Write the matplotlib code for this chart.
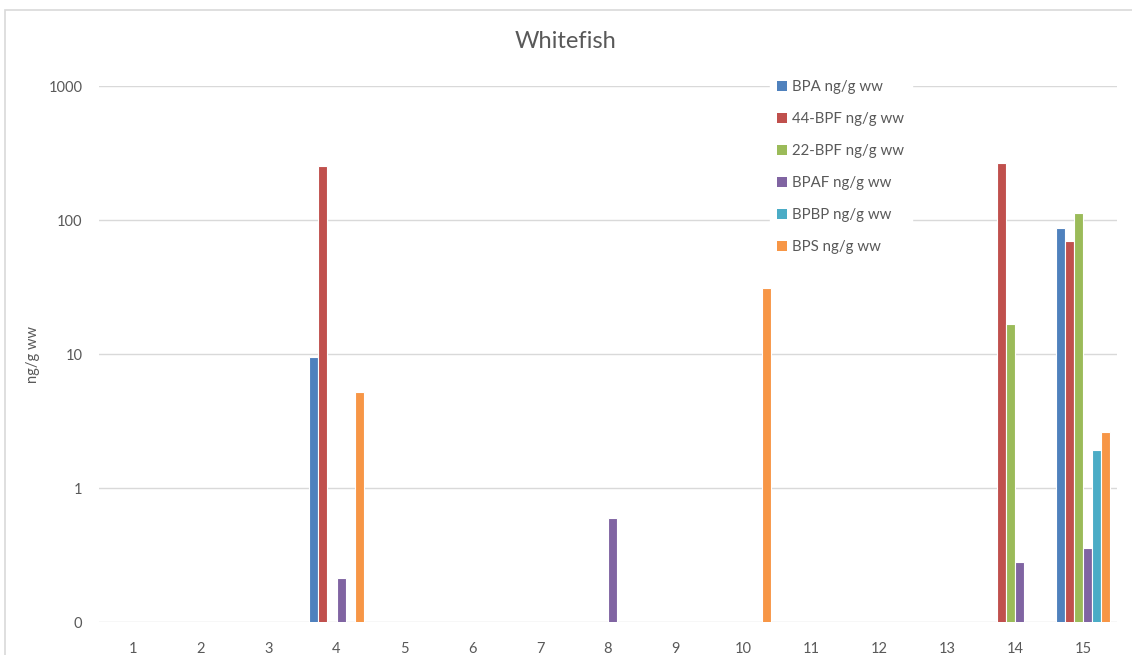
import numpy as np
import matplotlib
matplotlib.use("Agg")
import matplotlib.pyplot as plt
from matplotlib.patches import Patch, Rectangle

plt.rcParams['font.family'] = ['Lato', 'DejaVu Sans']

# --- Data ---
categories = list(range(1, 16))
series_names = ['BPA ng/g ww', '44-BPF ng/g ww', '22-BPF ng/g ww',
                'BPAF ng/g ww', 'BPBP ng/g ww', 'BPS ng/g ww']
bpa = [0, 0, 0, 9.5, 0, 0, 0, 0, 0, 0, 0, 0, 0, 0, 87]
bpf44 = [0, 0, 0, 253, 0, 0, 0, 0, 0, 0, 0, 0, 0, 266, 70]
bpf22 = [0, 0, 0, 0, 0, 0, 0, 0, 0, 0, 0, 0, 0, 16.7, 113]
bpaf = [0, 0, 0, 0.215, 0, 0, 0, 0.6, 0, 0, 0, 0, 0, 0.28, 0.36]
bpbp = [0, 0, 0, 0, 0, 0, 0, 0, 0, 0, 0, 0, 0, 0, 1.93]
bps = [0, 0, 0, 5.2, 0, 0, 0, 0, 0, 31, 0, 0, 0, 0, 2.64]
ytick_vals = [0.1, 1, 10, 100, 1000]
ytick_labels = ['0', '1', '10', '100', '1000']

colors = ['#4F81BD', '#C0504D', '#9BBB59', '#8064A2', '#4BACC6', '#F79646']
text_col = '#595959'
grid_col = '#D9D9D9'

W, H = 1132, 655
fig = plt.figure(figsize=(W / 100, H / 100), dpi=100)

# outer chart border (Excel style)
fig.patches.append(Rectangle((4.5 / W, -0.05), 1.2, 1 - 10 / H + 0.05,
                             transform=fig.transFigure, fill=False,
                             edgecolor=grid_col, lw=1.2))

ax = fig.add_axes([99 / W, 1 - 622.3 / H, (1117 - 99) / W, (622.3 - 86) / H])

x = np.arange(len(categories))
all_series = [bpa, bpf44, bpf22, bpaf, bpbp, bps]
n = len(all_series)
bw = 1 / 7.5  # Excel gap width 150%
for i, vals in enumerate(all_series):
    v = np.array(vals, dtype=float)
    v[v == 0] = np.nan
    ax.bar(x + (i - (n - 1) / 2) * bw, v, width=bw, color=colors[i],
           edgecolor='white', linewidth=0.8, zorder=3)

ax.set_yscale('log')
ax.set_ylim(0.1, 1000)
ax.set_xlim(-0.5, len(categories) - 0.5)
ax.set_yticks(ytick_vals)
ax.set_yticklabels(ytick_labels)
ax.minorticks_off()
ax.set_xticks(x)
ax.set_xticklabels([str(c) for c in categories])
ax.tick_params(axis='both', length=0, colors=text_col, labelsize=10.5)
ax.tick_params(axis='y', pad=12)
ax.tick_params(axis='x', pad=14)
ax.grid(axis='y', color=grid_col, linewidth=1, zorder=0)
for s in ax.spines.values():
    s.set_visible(False)

ax.set_ylabel('ng/g ww', color=text_col, fontsize=10.5)
ax.yaxis.set_label_coords((40 - 99) / (1117 - 99), 0.5)

fig.text(0.5, 1 - 41 / H, 'Whitefish', ha='center', va='center',
         fontsize=17, color=text_col)

handles = [Patch(facecolor=c, edgecolor='none') for c in colors]
leg = ax.legend(handles, series_names, loc='upper left',
                bbox_to_anchor=(770 / W, 1 - 73 / H),
                bbox_transform=fig.transFigure, frameon=True,
                fancybox=False, framealpha=1, edgecolor='white',
                facecolor='white', fontsize=10.8, handlelength=0.62,
                handleheight=0.62, handletextpad=0.35, labelspacing=1.2,
                borderpad=0.5, borderaxespad=0)
for t in leg.get_texts():
    t.set_color(text_col)
leg.set_zorder(5)

fig.savefig('out.png', dpi=100, facecolor='white')
